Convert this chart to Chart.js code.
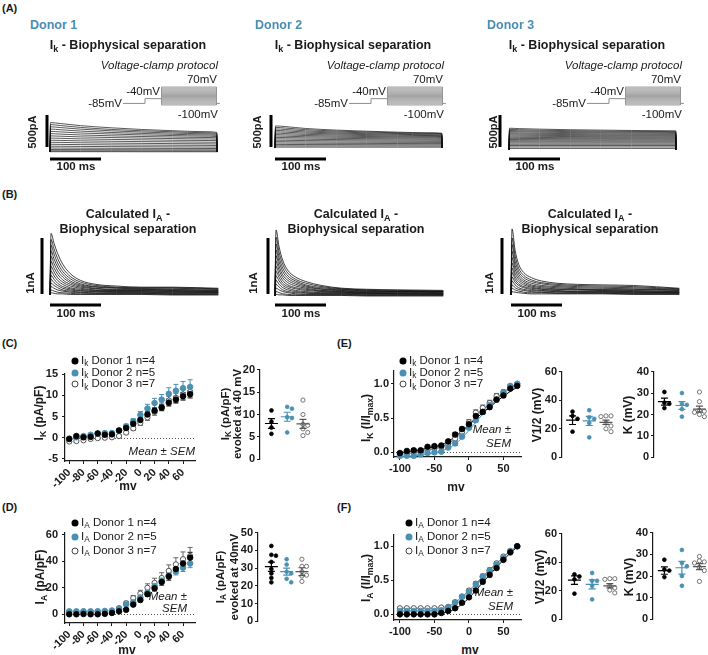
<!DOCTYPE html>
<html><head><meta charset="utf-8">
<script src="https://cdn.jsdelivr.net/npm/chart.js"></script>
<style>
html,body{margin:0;padding:0;background:#fff}
body{position:relative;width:708px;height:655px;overflow:hidden;font-family:"Liberation Sans",Arial,Helvetica,sans-serif;color:#1a1a1a}
.t{position:absolute;white-space:nowrap;line-height:1}
.t sub{font-size:72%;vertical-align:baseline;position:relative;top:0.3em}
canvas{position:absolute}
.dot{position:absolute;width:7px;height:7px;border-radius:50%;transform:translate(-50%,-50%);box-sizing:border-box}
</style></head><body>
<script>
// ================= DATA =================
const donorNames = ['Donor 1','Donor 2','Donor 3'];
const donorN = [4,5,7];
const mv = [-100,-90,-80,-70,-60,-50,-40,-30,-20,-10,0,10,20,30,40,50,60,70];

// (C) Ik density (pA/pF)
const ikD1 = [-0.3,0.4,0.1,0.2,1.0,0.7,0.8,1.7,2.3,3.3,4.2,5.5,6.4,7.1,8.3,9.0,9.8,10.3];
const ikD2 = [-0.2,0.1,0.4,0.7,1.0,1.1,1.1,1.7,2.7,3.9,5.4,6.9,8.2,9.0,10.4,11.1,11.7,12.0];
const ikD3 = [-0.9,-0.8,-0.6,-0.3,-0.1,0.0,0.1,0.4,1.2,2.2,3.5,4.8,6.1,7.3,8.8,9.4,10.2,10.8];
const ikSem1 = [0.3,0.3,0.3,0.3,0.3,0.3,0.3,0.4,0.4,0.5,0.5,0.6,0.7,0.7,0.8,0.8,0.9,0.9];
const ikSem2 = [0.3,0.3,0.3,0.3,0.3,0.3,0.4,0.4,0.5,0.6,0.8,1.0,1.1,1.2,1.4,1.5,1.6,1.7];
const ikSem3 = [0.3,0.3,0.3,0.3,0.3,0.3,0.3,0.3,0.4,0.5,0.6,0.7,0.8,0.9,1.0,1.1,1.2,1.2];

// (D) IA density (pA/pF)
const iaD1 = [0.0,0.0,0.2,0.0,0.0,0.3,1.0,2.2,3.4,7.3,10.8,15.2,19.6,24.4,28.6,34.2,38.4,42.8];
const iaD2 = [2.2,2.2,2.3,2.2,2.3,2.5,2.8,4.2,7.3,9.0,12.7,16.4,21.3,25.4,29.3,32.3,35.2,38.4];
const iaD3 = [1.8,1.8,2.0,1.9,2.0,2.2,2.6,4.6,8.3,12.2,15.6,20.0,23.7,27.4,32.8,37.7,41.6,44.0];
const iaSem1 = [0.3,0.3,0.3,0.3,0.3,0.3,0.4,0.6,0.8,1.0,1.3,1.6,2.0,2.4,2.8,3.2,3.6,4.0];
const iaSem2 = [0.3,0.3,0.3,0.3,0.3,0.3,0.4,0.5,0.7,0.9,1.1,1.4,1.7,2.0,2.3,2.6,2.9,3.2];
const iaSem3 = [0.5,0.5,0.5,0.5,0.5,0.5,0.6,1.0,1.5,2.0,2.5,3.0,3.5,4.0,4.5,5.0,5.5,6.5];

// (E) Ik normalised I/Imax + Boltzmann fits
const ikN1 = [-0.01,0.02,0.03,0.03,0.08,0.09,0.10,0.16,0.26,0.34,0.41,0.53,0.59,0.66,0.77,0.83,0.93,0.97];
const ikN2 = [-0.05,-0.05,-0.05,-0.03,-0.01,0.0,0.01,0.07,0.13,0.23,0.36,0.47,0.59,0.69,0.77,0.87,0.97,1.0];
const ikN3 = [-0.03,-0.01,0.0,0.01,0.04,0.06,0.08,0.13,0.20,0.30,0.44,0.58,0.65,0.72,0.82,0.88,0.96,1.0];
const ikNSem = [0.02,0.02,0.02,0.02,0.02,0.02,0.02,0.02,0.03,0.03,0.03,0.03,0.03,0.03,0.03,0.03,0.02,0.02];
const ikNSem3 = [0.02,0.02,0.02,0.02,0.02,0.02,0.02,0.03,0.03,0.03,0.04,0.04,0.04,0.04,0.04,0.03,0.03,0.02];
const ikFit1 = [-0.01,0.01,0.02,0.04,0.06,0.08,0.11,0.16,0.23,0.31,0.40,0.49,0.58,0.66,0.74,0.82,0.89,0.95];
const ikFit2 = [-0.06,-0.06,-0.05,-0.04,-0.03,-0.01,0.02,0.06,0.12,0.21,0.32,0.44,0.56,0.67,0.77,0.86,0.94,1.0];
const ikFit3 = [-0.03,-0.02,-0.01,0.01,0.03,0.05,0.08,0.13,0.20,0.29,0.40,0.51,0.62,0.71,0.80,0.88,0.95,1.0];

// (F) IA normalised I/Imax + fits
const iaN1 = [0.0,0.0,0.0,0.0,0.0,0.0,0.02,0.05,0.09,0.17,0.25,0.35,0.48,0.58,0.68,0.80,0.91,1.0];
const iaN2 = [0.05,0.05,0.05,0.05,0.05,0.05,0.06,0.10,0.17,0.26,0.33,0.44,0.55,0.64,0.73,0.83,0.93,1.0];
const iaN3 = [0.09,0.09,0.09,0.09,0.09,0.09,0.10,0.11,0.18,0.26,0.35,0.45,0.56,0.65,0.75,0.85,0.93,1.0];
const iaNSem = [0.01,0.01,0.01,0.01,0.01,0.01,0.01,0.02,0.02,0.02,0.02,0.03,0.03,0.03,0.02,0.02,0.01,0.0];
const iaFit1 = [0.0,0.0,0.0,0.0,0.0,0.01,0.02,0.04,0.08,0.15,0.24,0.35,0.47,0.58,0.69,0.80,0.90,0.99];
const iaFit2 = [0.05,0.05,0.05,0.05,0.05,0.06,0.07,0.10,0.16,0.24,0.33,0.44,0.55,0.65,0.74,0.84,0.93,1.0];
const iaFit3 = [0.09,0.09,0.09,0.09,0.09,0.09,0.10,0.12,0.18,0.26,0.35,0.45,0.56,0.66,0.75,0.85,0.93,1.0];

// scatter plots (per donor groups)
const ik40 = [[10.9,8.4,7.1,5.7],[11.7,11.3,9.4,9.2,6.0],[13.2,10.0,7.8,7.6,6.8,6.0,5.3]];
const ik40Mean = [8.0,9.5,7.9], ik40Sem = [1.1,1.0,1.0];
const ikV12 = [[32,29,27,18],[33,28,27,24,14],[29,29,28.5,24,22,20,18]];
const ikV12Mean = [26.0,25.5,24.5], ikV12Sem = [3.0,3.2,1.5];
const ikK = [[30.5,25.5,25,23],[30,25,24.5,22.5,19],[30.5,26,22,21.5,21,20,19]];
const ikKMean = [26.0,24.2,22.5], ikKSem = [1.6,1.8,1.4];
const ia40 = [[42.5,37.5,37.0,33.5,29.5,27.0,24.5,22.0],[35,32,28,27,24,22],[35,31,31,28,26,25.5,22.5]];
const ia40Mean = [30.8,28.0,28.0], ia40Sem = [2.6,2.0,2.2];
const iaV12 = [[31.5,30,28,18],[32.5,27,27,23.5,14],[28.5,28.5,28,23.5,22,20.5,18.5]];
const iaV12Mean = [27.5,24.5,23.5], iaV12Sem = [3.0,3.2,1.5];
const iaK = [[27.5,23,22.5,19.5],[32,26,24.5,20,15.5],[29,27,26.5,26,24,22.5,17.5]];
const iaKMean = [22.5,23.8,24.3], iaKSem = [1.7,2.9,1.4];

// axis ticks
const ivTicksC = [-100,-80,-60,-40,-20,0,20,40,60];
const ivTicksE = [-100,-50,0,50];

// voltage protocol (mV, ms)
const protoHold = -85, protoPre = -40;
const protoSteps = [-100,-90,-80,-70,-60,-50,-40,-30,-20,-10,0,10,20,30,40,50,60,70];
const protoT = [0,20,35,85,88];

// (A) Ik traces, pA at times tA (ms)
const tA = [0,1,20,60,120,180,240,300,327,328];
const ikTr1 = [
[0,460,445,412,378,352,333,318,306,0],[0,428,414,384,353,332,316,302,292,0],
[0,394,382,357,331,312,297,285,277,0],[0,358,348,327,305,290,277,267,260,0],
[0,322,314,297,281,267,257,248,242,0],[0,287,280,266,253,242,234,227,222,0],
[0,252,247,236,226,217,210,204,200,0],[0,218,214,205,197,190,184,180,177,0],
[0,184,181,174,168,162,158,154,152,0],[0,152,150,144,139,135,131,128,126,0],
[0,121,119,115,111,108,106,104,102,0],[0,91,90,87,84,82,80,78,77,0],
[0,63,62,60,58,57,56,55,54,0],[0,39,38,37,36,35,34,34,33,0],
[0,19,19,18,18,17,17,17,16,0],[0,5,5,5,5,4,4,4,4,0]];
const ikTr2 = [
[0,345,335,305,280,262,248,238,232,0],[0,322,312,287,265,250,238,229,224,0],
[0,298,290,268,250,237,227,219,215,0],[0,276,268,250,234,223,214,207,203,0],
[0,254,247,232,219,209,201,195,192,0],[0,232,226,213,203,194,187,182,179,0],
[0,210,205,195,186,179,173,169,166,0],[0,188,184,176,169,163,158,155,152,0],
[0,166,163,157,151,146,142,139,137,0],[0,144,142,137,132,128,125,123,121,0],
[0,122,120,116,113,110,107,105,104,0],[0,100,98,95,93,91,89,88,87,0],
[0,78,77,75,73,72,70,69,69,0],[0,56,55,54,53,52,51,50,50,0],
[0,34,34,33,33,32,32,31,31,0],[0,14,14,14,13,13,13,13,13,0]];
const ikTr3 = [
[0,340,334,326,317,311,305,302,300,0],[0,322,317,309,302,296,291,289,287,0],
[0,305,300,294,287,282,278,276,274,0],[0,288,284,278,272,268,264,262,260,0],
[0,270,266,261,256,252,249,247,246,0],[0,253,250,245,241,237,234,233,232,0],
[0,236,233,229,225,222,220,219,218,0],[0,218,216,213,210,207,205,204,204,0],
[0,200,198,196,193,191,190,189,189,0],[0,182,181,179,177,176,175,174,174,0],
[0,164,163,162,160,159,159,158,158,0],[0,146,145,144,143,143,142,142,142,0],
[0,128,128,127,127,126,126,126,126,0],[0,110,110,109,109,109,109,109,109,0],
[0,90,90,90,90,90,90,90,90,0],[0,70,70,70,70,70,70,70,70,0],
[0,48,48,48,48,48,48,48,48,0],[0,25,25,25,25,25,25,25,25,0]];

// (B) calculated IA traces, nA at times tB (ms)
const tB = [0,2,8,15,25,40,60,90,130,180,240,330];
const iaTr1 = [
[0,1.10,0.92,0.74,0.55,0.38,0.26,0.19,0.16,0.14,0.14,0.12],[0,0.99,0.82,0.65,0.48,0.33,0.23,0.17,0.14,0.13,0.13,0.11],
[0,0.89,0.73,0.57,0.42,0.29,0.20,0.15,0.13,0.12,0.12,0.10],[0,0.79,0.64,0.50,0.37,0.25,0.18,0.14,0.12,0.11,0.10,0.09],
[0,0.69,0.56,0.43,0.32,0.22,0.16,0.12,0.10,0.10,0.09,0.08],[0,0.60,0.48,0.37,0.27,0.19,0.14,0.11,0.09,0.09,0.08,0.07],
[0,0.51,0.41,0.31,0.23,0.16,0.12,0.09,0.08,0.08,0.07,0.06],[0,0.43,0.34,0.26,0.19,0.13,0.10,0.08,0.07,0.07,0.06,0.05],
[0,0.35,0.28,0.21,0.15,0.11,0.08,0.07,0.06,0.06,0.05,0.05],[0,0.28,0.22,0.17,0.12,0.09,0.07,0.06,0.05,0.05,0.04,0.04],
[0,0.21,0.17,0.13,0.09,0.07,0.05,0.04,0.04,0.04,0.03,0.03],[0,0.15,0.12,0.09,0.07,0.05,0.04,0.03,0.03,0.03,0.02,0.02],
[0,0.09,0.07,0.05,0.04,0.03,0.02,0.02,0.02,0.02,0.01,0.01],[0,0.04,0.03,0.02,0.02,0.01,0.01,0.01,0.01,0.01,0.0,0.0]];
const iaTr2 = [
[0,1.18,0.88,0.64,0.46,0.34,0.26,0.19,0.14,0.12,0.11,0.10],[0,1.05,0.78,0.57,0.41,0.30,0.23,0.17,0.13,0.11,0.10,0.09],
[0,0.93,0.69,0.50,0.36,0.27,0.20,0.15,0.12,0.10,0.09,0.08],[0,0.82,0.61,0.44,0.32,0.24,0.18,0.13,0.11,0.09,0.08,0.08],
[0,0.72,0.53,0.38,0.28,0.21,0.16,0.12,0.10,0.08,0.08,0.07],[0,0.62,0.46,0.33,0.24,0.18,0.14,0.10,0.09,0.07,0.07,0.06],
[0,0.53,0.39,0.28,0.20,0.15,0.12,0.09,0.08,0.06,0.06,0.05],[0,0.44,0.33,0.23,0.17,0.13,0.10,0.08,0.07,0.05,0.05,0.05],
[0,0.36,0.27,0.19,0.14,0.10,0.08,0.06,0.06,0.05,0.04,0.04],[0,0.28,0.21,0.15,0.11,0.08,0.06,0.05,0.05,0.04,0.04,0.03],
[0,0.21,0.16,0.11,0.08,0.06,0.05,0.04,0.04,0.03,0.03,0.03],[0,0.14,0.11,0.08,0.06,0.04,0.03,0.03,0.03,0.02,0.02,0.02],
[0,0.08,0.06,0.04,0.03,0.02,0.02,0.02,0.02,0.01,0.01,0.01],[0,0.03,0.02,0.02,0.01,0.01,0.01,0.01,0.01,0.0,0.0,0.0]];
const iaTr3 = [
[0,1.18,0.80,0.55,0.40,0.31,0.25,0.21,0.19,0.18,0.17,0.12],[0,1.02,0.70,0.48,0.35,0.27,0.22,0.19,0.17,0.16,0.15,0.11],
[0,0.90,0.61,0.42,0.31,0.24,0.20,0.17,0.15,0.14,0.13,0.10],[0,0.78,0.53,0.37,0.27,0.21,0.17,0.15,0.13,0.12,0.11,0.09],
[0,0.67,0.46,0.32,0.24,0.18,0.15,0.13,0.11,0.10,0.10,0.08],[0,0.57,0.39,0.28,0.21,0.16,0.13,0.11,0.10,0.09,0.08,0.07],
[0,0.48,0.33,0.24,0.18,0.14,0.11,0.10,0.09,0.08,0.07,0.06],[0,0.40,0.28,0.20,0.15,0.12,0.10,0.08,0.07,0.07,0.06,0.05],
[0,0.32,0.23,0.17,0.13,0.10,0.08,0.07,0.06,0.06,0.05,0.04],[0,0.25,0.18,0.13,0.10,0.08,0.07,0.06,0.05,0.05,0.04,0.04],
[0,0.18,0.13,0.10,0.08,0.06,0.05,0.04,0.04,0.04,0.03,0.03],[0,0.12,0.09,0.07,0.05,0.04,0.04,0.03,0.03,0.03,0.02,0.02],
[0,0.06,0.05,0.04,0.03,0.02,0.02,0.02,0.02,0.02,0.01,0.01]];
const scaleBarA = 500, scaleBarB = 1, scaleBarT = 100;

// ================= RENDERING =================
const BLUE = '#4a90b2', INK = '#1a1a1a', OPEN = '#444';
Chart.defaults.font.family = '"Liberation Sans", Arial, sans-serif';
Chart.defaults.color = INK;

function mk(x,y,w,h,cfg){
  const c=document.createElement('canvas');
  c.width=w;c.height=h;c.style.left=x+'px';c.style.top=y+'px';c.style.width=w+'px';c.style.height=h+'px';
  document.body.appendChild(c);
  cfg.options=Object.assign({responsive:false,animation:false,devicePixelRatio:1,events:[]},cfg.options||{});
  cfg.options.plugins=Object.assign({legend:{display:false},tooltip:{enabled:false}},cfg.options.plugins||{});
  return new Chart(c.getContext('2d'),cfg);
}
function T(x,y,html,o){
  o=o||{};
  const d=document.createElement('div');d.className='t';d.innerHTML=html;
  d.style.left=x+'px';d.style.top=y+'px';
  let tr=o.a==='c'?'translate(-50%,-50%)':o.a==='r'?'translate(-100%,-50%)':'translate(0,-50%)';
  if(o.rot)tr='translate(-50%,-50%) rotate(-90deg)';
  d.style.transform=tr;d.style.fontSize=(o.s||12)+'px';
  if(o.b)d.style.fontWeight='bold';if(o.i)d.style.fontStyle='italic';
  if(o.c)d.style.color=o.c;if(o.lh)d.style.lineHeight=o.lh+'px';if(o.ta)d.style.textAlign=o.ta;
  document.body.appendChild(d);return d;
}
function dot(x,y,kind){
  const d=document.createElement('div');d.className='dot';d.style.left=x+'px';d.style.top=y+'px';
  if(kind===0)d.style.background='#000';
  else if(kind===1)d.style.background=BLUE;
  else{d.style.background='#fff';d.style.border='1px solid '+OPEN;}
  document.body.appendChild(d);
}

// ---- plugins ----
const errPlugin={id:'err',beforeDatasetsDraw(chart){
  const {ctx,scales:{x,y}}=chart;
  chart.data.datasets.forEach(ds=>{ if(!ds.errs)return;
    ctx.save();ctx.strokeStyle=ds.errColor;ctx.lineWidth=1;
    ds.data.forEach((p,i)=>{const e=ds.errs[i];if(!e)return;
      const px=x.getPixelForValue(p.x),t=y.getPixelForValue(p.y+e),b=y.getPixelForValue(p.y-e);
      ctx.beginPath();ctx.moveTo(px,t);ctx.lineTo(px,b);ctx.moveTo(px-2.5,t);ctx.lineTo(px+2.5,t);ctx.moveTo(px-2.5,b);ctx.lineTo(px+2.5,b);ctx.stroke();});
    ctx.restore();});
}};
const zeroPlugin={id:'zero',beforeDatasetsDraw(chart){
  const {ctx,chartArea:a,scales:{y}}=chart;const py=Math.round(y.getPixelForValue(0))+0.5;
  ctx.save();ctx.strokeStyle='#555';ctx.lineWidth=1;ctx.setLineDash([1,2]);
  ctx.beginPath();ctx.moveTo(a.left+2,py);ctx.lineTo(a.right,py);ctx.stroke();ctx.restore();
}};
const msPlugin={id:'ms',afterDatasetsDraw(chart,args,o){
  const {ctx,scales:{x,y}}=chart;
  o.means.forEach((m,i)=>{
    const cx=x.getPixelForValue(i+1),py=y.getPixelForValue(m),t=y.getPixelForValue(m+o.sems[i]),b=y.getPixelForValue(m-o.sems[i]);
    ctx.save();ctx.strokeStyle=o.colors[i];ctx.lineWidth=1.2;ctx.beginPath();
    ctx.moveTo(cx-6.5,py);ctx.lineTo(cx+6.5,py);ctx.moveTo(cx,t);ctx.lineTo(cx,b);
    ctx.moveTo(cx-3.5,t);ctx.lineTo(cx+3.5,t);ctx.moveTo(cx-3.5,b);ctx.lineTo(cx+3.5,b);ctx.stroke();ctx.restore();
  });
}};

function axisCommon(ticks,fmt,pad){
  return {
    grid:{display:true,drawOnChartArea:false,drawTicks:true,tickLength:3,color:INK,lineWidth:1},
    border:{display:true,color:INK,width:1.2},
    afterBuildTicks:s=>{s.ticks=ticks.map(v=>({value:v}));},
    ticks:{font:{size:11,weight:'bold'},color:INK,padding:pad,autoSkip:false,callback:fmt||(v=>String(v))}
  };
}

// ---- trace charts ----
function traceChart(box,xr,yr,times,traces,bars,lw){
  const ds=traces.map(tr=>({data:tr.map((v,i)=>({x:times[i],y:v})),showLine:true,borderColor:'#111',borderWidth:lw||0.7,pointRadius:0,cubicInterpolationMode:'monotone'}));
  bars.forEach(b=>ds.push({data:b,showLine:true,borderColor:'#000',borderWidth:3,pointRadius:0,borderCapStyle:'butt'}));
  mk(box[0],box[1],box[2],box[3],{type:'scatter',data:{datasets:ds},options:{layout:{padding:0},
    scales:{x:{type:'linear',display:false,min:xr[0],max:xr[1]},y:{type:'linear',display:false,min:yr[0],max:yr[1]}}}});
}
const PXMS=0.51;
// panel A
const A=[{t0:50,base:152,vb:47,tr:ikTr1},{t0:275,base:148,vb:271,tr:ikTr2},{t0:509,base:150,vb:500,tr:ikTr3}];
const PPA=0.064;
A.forEach(g=>{
  const L=g.t0-20,top=105,W=200,H=65;
  const xr=[(L-g.t0)/PXMS,(L+W-g.t0)/PXMS], yr=[(g.base-(top+H))/PPA,(g.base-top)/PPA];
  const tb=(g.vb-g.t0)/PXMS, vb0=(g.base-147)/PPA, hy=(g.base-159)/PPA;
  traceChart([L,top,W,H],xr,yr,tA,g.tr,[[{x:tb,y:vb0},{x:tb,y:vb0+scaleBarA}],[{x:0,y:hy},{x:scaleBarT,y:hy}]],0.7);
});
// panel B
const B=[{t0:50,base:295,vb:42,tr:iaTr1},{t0:275,base:296,vb:268,tr:iaTr2},{t0:511,base:295,vb:502,tr:iaTr3}];
const PNA=56;
B.forEach(g=>{
  const L=g.t0-25,top=222,W=205,H=95;
  const xr=[(L-g.t0)/PXMS,(L+W-g.t0)/PXMS], yr=[(g.base-(top+H))/PNA,(g.base-top)/PNA];
  const tb=(g.vb-g.t0)/PXMS, vb0=(g.base-294)/PNA, hy=(g.base-305)/PNA;
  traceChart([L,top,W,H],xr,yr,tB,g.tr,[[{x:tb,y:vb0},{x:tb,y:vb0+scaleBarB}],[{x:0,y:hy},{x:scaleBarT,y:hy}]],0.8);
});
// protocol insets
const PPMS=1.1, PMV=18/170;
[123,349,587].forEach(t0=>{
  const L=t0-5,top=80,W=112,H=30;
  const xr=[-5/PPMS,(W-5)/PPMS], yr=[-100-(top+H-105)/PMV,-100+(105-top)/PMV];
  const ds=[];
  const g='#8c8c8c';
  ds.push({data:[{x:protoT[0],y:protoHold},{x:protoT[1],y:protoHold},{x:protoT[1],y:protoPre},{x:protoT[2],y:protoPre}],showLine:true,borderColor:g,borderWidth:1,pointRadius:0});
  protoSteps.forEach(v=>ds.push({data:[{x:protoT[2],y:v},{x:protoT[3],y:v}],showLine:true,borderColor:'#a3a3a3',borderWidth:1,pointRadius:0}));
  ds.push({data:[{x:protoT[2],y:protoSteps[0]},{x:protoT[2],y:protoSteps[protoSteps.length-1]}],showLine:true,borderColor:g,borderWidth:1,pointRadius:0});
  ds.push({data:[{x:protoT[3],y:protoSteps[0]},{x:protoT[3],y:protoSteps[protoSteps.length-1]}],showLine:true,borderColor:g,borderWidth:1,pointRadius:0});
  ds.push({data:[{x:protoT[3],y:protoHold},{x:protoT[4],y:protoHold}],showLine:true,borderColor:g,borderWidth:1,pointRadius:0});
  mk(L,top,W,H,{type:'scatter',data:{datasets:ds},options:{layout:{padding:0},
    scales:{x:{type:'linear',display:false,min:xr[0],max:xr[1]},y:{type:'linear',display:false,min:yr[0],max:yr[1]}}}});
  T(t0+95,66,'Voltage-clamp protocol',{a:'r',i:1,s:11.5});
  T(t0+94,80,protoSteps[protoSteps.length-1]+'mV',{a:'r',s:11.5});
  T(t0+37,92,protoPre+'mV',{a:'r',s:11.5});
  T(t0-1,104,protoHold+'mV',{a:'r',s:11.5});
  T(t0+95,115,protoSteps[0]+'mV',{a:'r',s:11.5});
});

// ---- IV charts ----
function iv(o){
  const padT=8,padR=4;
  const [l,t,r,b]=o.area;
  const W=o.yW+(r-l)+padR,H=padT+(b-t)+o.xH;
  const st=[{fill:'#000',stroke:'#000',ec:'#000',r:2.8},{fill:BLUE,stroke:BLUE,ec:BLUE,r:2.8},{fill:'#fff',stroke:OPEN,ec:'#666',r:2.6}];
  const ds=[];
  o.series.forEach((s,i)=>ds.push({data:mv.map((v,k)=>({x:v,y:s[k]})),errs:o.errs[i],errColor:st[i].ec,pointRadius:st[i].r,pointBackgroundColor:st[i].fill,pointBorderColor:st[i].stroke,pointBorderWidth:0.9,clip:false}));
  const fc=['#000',BLUE,'#8a8a8a'];
  (o.fits||[]).forEach((f,i)=>ds.push({data:mv.map((v,k)=>({x:v,y:f[k]})),showLine:true,borderColor:fc[i],borderWidth:1,pointRadius:0,cubicInterpolationMode:'monotone'}));
  const xa=axisCommon(o.xt,null,2);xa.type='linear';xa.min=o.xr[0];xa.max=o.xr[1];xa.afterFit=s=>{s.height=o.xH;};
  xa.ticks.maxRotation=o.rot;xa.ticks.minRotation=o.rot;
  const ya=axisCommon(o.yt,o.fmt,o.yPad);ya.type='linear';ya.min=o.yr[0];ya.max=o.yr[1];ya.afterFit=s=>{s.width=o.yW;};
  mk(l-o.yW,t-padT,W,H,{type:'scatter',data:{datasets:ds},options:{layout:{padding:{top:padT,right:padR,left:0,bottom:0}},scales:{x:xa,y:ya}},plugins:[zeroPlugin,errPlugin]});
}
iv({area:[65,371,196,461],yW:40,xH:32,xr:[-106,77],yr:[-5.5,15.15],xt:ivTicksC,yt:[-5,0,5,10,15],rot:45,yPad:4,
   series:[ikD1,ikD2,ikD3],errs:[ikSem1,ikSem2,ikSem3]});
iv({area:[65,530,196,623],yW:40,xH:32,xr:[-106,77],yr:[-6.6,61.7],xt:ivTicksC,yt:[0,20,40,60],rot:45,yPad:4,
   series:[iaD1,iaD2,iaD3],errs:[iaSem1,iaSem2,iaSem3]});
iv({area:[394,370,522,457],yW:36,xH:20,xr:[-108.6,75.6],yr:[-0.068,1.193],xt:ivTicksE,yt:[0,0.5,1],rot:0,yPad:2,fmt:v=>v.toFixed(1),
   series:[ikN1,ikN2,ikN3],errs:[ikNSem,ikNSem,ikNSem3],fits:[ikFit1,ikFit2,ikFit3]});
iv({area:[394,534,522,620],yW:36,xH:20,xr:[-108.6,75.6],yr:[-0.083,1.171],xt:ivTicksE,yt:[0,0.5,1],rot:0,yPad:2,fmt:v=>v.toFixed(1),
   series:[iaN1,iaN2,iaN3],errs:[iaNSem,iaNSem,iaNSem],fits:[iaFit1,iaFit2,iaFit3]});

// ---- scatter charts ----
function swarm(vals,thr,step){
  const offs=[],seq=[0,1,-1,2,-2,3,-3];
  vals.forEach((v,i)=>{const used=new Set();for(let j=0;j<i;j++){if(Math.abs(vals[j]-v)<thr)used.add(offs[j]);}
    const o=seq.find(s=>!used.has(s*step));offs.push((o===undefined?0:o)*step);});
  return offs;
}
function sc(o){
  const padT=8,padB=8,padR=2;
  const [l,t,r,b]=o.area;
  const W=o.yW+(r-l)+padR,H=padT+(b-t)+padB;
  const st=[{fill:'#000',stroke:'#000',r:1.9},{fill:BLUE,stroke:BLUE,r:1.9},{fill:'#fff',stroke:'#555',r:2.1}];
  const ds=o.groups.map((g,gi)=>{const off=swarm(g,o.thr,o.step);
    return {data:g.map((v,i)=>({x:gi+1+off[i],y:v})),pointRadius:st[gi].r,pointBackgroundColor:st[gi].fill,pointBorderColor:st[gi].stroke,pointBorderWidth:0.8,clip:false};});
  const ya=axisCommon(o.yt,null,2);ya.type='linear';ya.min=o.yr[0];ya.max=o.yr[1];ya.afterFit=s=>{s.width=o.yW;};
  mk(l-o.yW,t-padT,W,H,{type:'scatter',data:{datasets:ds},options:{layout:{padding:{top:padT,bottom:padB,right:padR,left:0}},
    scales:{x:{type:'linear',display:false,min:o.xr[0],max:o.xr[1]},y:ya},
    plugins:{ms:{means:o.means,sems:o.sems,colors:['#000',BLUE,'#555']}}},plugins:[msPlugin]});
}
sc({area:[260,369,322,460],yW:24,xr:[0.273,4.03],yr:[0,20],yt:[0,5,10,15,20],groups:ik40,means:ik40Mean,sems:ik40Sem,thr:1.0,step:0.3});
sc({area:[562,371,625,458],yW:24,xr:[0.371,3.97],yr:[0,60],yt:[0,20,40,60],groups:ikV12,means:ikV12Mean,sems:ikV12Sem,thr:3,step:0.3});
sc({area:[654,371,706,458],yW:24,xr:[0.405,3.216],yr:[0,40],yt:[0,10,20,30,40],groups:ikK,means:ikKMean,sems:ikKSem,thr:2,step:0.28});
sc({area:[258,532,320,622],yW:24,xr:[0.125,4.0],yr:[0,50],yt:[0,10,20,30,40,50],groups:ia40,means:ia40Mean,sems:ia40Sem,thr:2.5,step:0.3});
sc({area:[562,533,625,620],yW:24,xr:[0.297,3.70],yr:[0,60],yt:[0,20,40,60],groups:iaV12,means:iaV12Mean,sems:iaV12Sem,thr:3,step:0.28});
sc({area:[653,532,706,620],yW:24,xr:[0.351,3.216],yr:[0,40],yt:[0,10,20,30,40],groups:iaK,means:iaKMean,sems:iaKSem,thr:2,step:0.28});

// ---- texts ----
T(2,8,'(A)',{b:1,s:11});T(2,194,'(B)',{b:1,s:11});T(2,343,'(C)',{b:1,s:11});T(2,507,'(D)',{b:1,s:11});
T(337,343,'(E)',{b:1,s:11});T(337,507,'(F)',{b:1,s:11});
[0,225,459].forEach((dx,i)=>{
  T(30+dx-(i==2?2:0),25,donorNames[i],{b:1,s:12.5,c:'#4a8db3'});
  T(128+dx,45,'I<sub>k</sub> - Biophysical separation',{a:'c',b:1,s:12.5});
  T(32+dx+(i==2?2:0),132,scaleBarA+'pA',{rot:1,b:1,s:11});
  T(76+dx,167,scaleBarT+' ms',{a:'c',b:1,s:11.5});
  T(128+dx+(i?3:0),214,'Calculated I<sub>A</sub> -',{a:'c',b:1,s:12.5});
  T(128+dx+(i?3:0),229,'Biophysical separation',{a:'c',b:1,s:12.5});
  T(31+dx+(i==1?-2:0),283,scaleBarB+'nA',{rot:1,b:1,s:11.5});
  T(76+dx+(i==2?2:0),314,scaleBarT+' ms',{a:'c',b:1,s:11.5});
});
// legends
function legend(x,y0,dy,sym){
  [0,1,2].forEach(i=>{dot(x,y0+i*dy,i);T(x+6,y0+i*dy,sym+' '+donorNames[i]+' n='+donorN[i],{s:11.5});});
}
legend(75,361,11.7,'I<sub>k</sub>');
legend(403,361,11.7,'I<sub>k</sub>');
legend(75,523,14,'I<sub>A</sub>');
legend(409,523,14,'I<sub>A</sub>');
// axis titles
T(39,413,'I<sub>K</sub> (pA/pF)',{rot:1,b:1,s:12});
T(231,414,'I<sub>K</sub> (pA/pF)<br>evoked at 40 mV',{rot:1,b:1,s:11.5,lh:11,ta:'center'});
T(366,418,'I<sub>K</sub> (I/I<sub>max</sub>)',{rot:1,b:1,s:12});
T(537,415,'V1/2 (mV)',{rot:1,b:1,s:12});
T(628,415,'K (mV)',{rot:1,b:1,s:12});
T(40,577,'I<sub>A</sub> (pA/pF)',{rot:1,b:1,s:12});
T(227,577,'I<sub>A</sub> (pA/pF)<br>evoked at 40mV',{rot:1,b:1,s:11.5,lh:12,ta:'center'});
T(366,578,'I<sub>A</sub> (I/I<sub>max</sub>)',{rot:1,b:1,s:12});
T(540,577,'V1/2 (mV)',{rot:1,b:1,s:12});
T(629,577,'K (mV)',{rot:1,b:1,s:12});
T(128,486,'mv',{a:'c',b:1,s:12});T(127,650,'mv',{a:'c',b:1,s:12});
T(456,487,'mv',{a:'c',b:1,s:12});T(470,650,'mv',{a:'c',b:1,s:12});
// mean ± SEM notes
T(195,452,'Mean ± SEM',{a:'r',i:1,s:11.5});
T(511,430,'Mean ±',{a:'r',i:1,s:11.5});T(511,444,'SEM',{a:'r',i:1,s:11.5});
T(187,597,'Mean ±',{a:'r',i:1,s:11.5});T(187,609,'SEM',{a:'r',i:1,s:11.5});
T(513,593,'Mean ±',{a:'r',i:1,s:11.5});T(513,607,'SEM',{a:'r',i:1,s:11.5});
</script>
</body></html>
